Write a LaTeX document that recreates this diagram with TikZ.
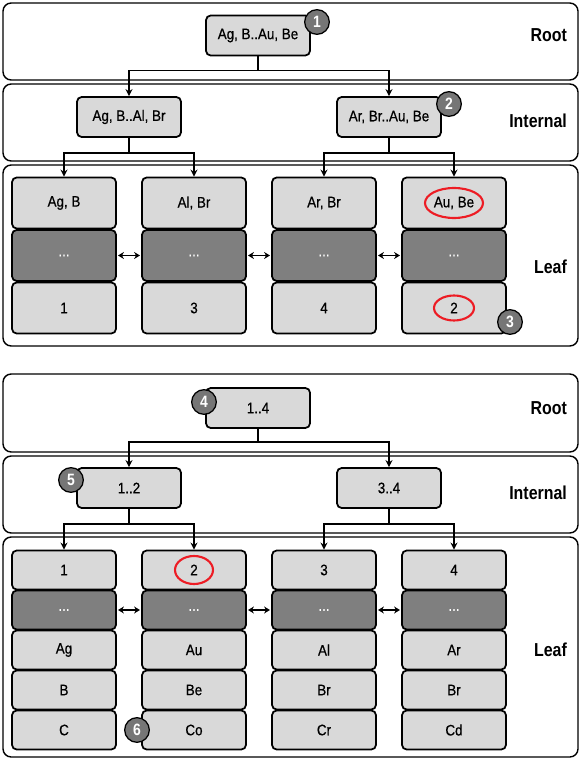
\documentclass[tikz,border=0pt]{standalone}
\usepackage{fontspec}
\setmainfont{Liberation Sans}[FakeStretch=0.88, FakeBold=0.6]
\newfontfamily\layerfont{Liberation Sans}[FakeStretch=0.85]
\usepackage{tikz}
\usetikzlibrary{arrows.meta,positioning,calc}

\definecolor{cellgray}{HTML}{D9D9D9}
\definecolor{celldark}{HTML}{7F7F7F}
\definecolor{badgegray}{HTML}{767676}
\definecolor{ringred}{HTML}{ED1C24}

\begin{document}
\begin{tikzpicture}[
    x=0.03cm, y=-0.03cm,
    font=\fontsize{13}{15}\selectfont,
    panel/.style={draw=black, line width=1.2pt, rounded corners=7pt, fill=white},
    treenode/.style={rectangle, rounded corners=4pt, draw=black, line width=1.5pt, fill=cellgray, text centered, minimum width=3.12cm, minimum height=1.2cm, inner sep=0pt},
    tallcell/.style={treenode, minimum height=1.53cm},
    flatcell/.style={treenode, minimum height=1.17cm},
    dots/.style={fill=celldark, text=white},
    badge/.style={circle, draw=black, line width=1.1pt, fill=badgegray, text=white, font=\layerfont\fontsize{14}{14}\selectfont\bfseries, minimum size=0.74cm, inner sep=0pt},
    layer/.style={anchor=east, font=\layerfont\fontsize{16}{18}\selectfont\bfseries},
    arrow/.style={-{Stealth[length=6pt,width=6pt]}, line width=1.3pt},
    link/.style={{Stealth[length=5pt,width=6pt]}-{Stealth[length=5pt,width=6pt]}, line width=1.4pt, shorten <=1pt, shorten >=1pt},
    ring/.style={draw=ringred, line width=1.8pt}
]
    \useasboundingbox (0,0) rectangle (581,760);

    % ---------- upper tree: keys ----------
    \draw[panel] (3,3) rectangle (578,80);
    \draw[panel] (3,84) rectangle (578,161);
    \draw[panel] (3,165) rectangle (578,346);

    \node[layer] (rootA) at (571,35) {Root};
    \node[layer] (internalA) at (571,121) {Internal};
    \node[layer] (leafA) at (571,267) {Leaf};

    \node[treenode] (r1) at (258,35.5) {Ag, B..Au, Be};
    \node[treenode] (i1) at (129,117) {Ag, B..Al, Br};
    \node[treenode] (i2) at (389,117) {Ar, Br..Au, Be};

    \foreach \k/\x/\key/\val in {1/64/{Ag, B}/1, 2/194/{Al, Br}/3, 3/324/{Ar, Br}/4, 4/454/{Au, Be}/2} {
        \node[tallcell] (ka\k) at (\x,203) {\key};
        \node[tallcell, dots] (kb\k) at (\x,255.5) {...};
        \node[tallcell] (kc\k) at (\x,308) {\val};
    }

    \draw[arrow] (r1.south) -- ++(0,14) -| (i1.north);
    \draw[arrow] (r1.south) -- ++(0,14) -| (i2.north);
    \draw[arrow] (i1.south) -- ++(0,15) -| (ka1.north);
    \draw[arrow] (i1.south) -- ++(0,15) -| (ka2.north);
    \draw[arrow] (i2.south) -- ++(0,15) -| (ka3.north);
    \draw[arrow] (i2.south) -- ++(0,15) -| (ka4.north);
    \foreach \a/\b in {1/2, 2/3, 3/4}
        \draw[link] (kb\a.east) -- (kb\b.west);

    \draw[ring] (ka4) ellipse [x radius=29, y radius=15];
    \draw[ring] (kc4) ellipse [x radius=20, y radius=12.5];

    \node[badge] (b1) at (317,22) {1};
    \node[badge] (b2) at (449,104) {2};
    \node[badge] (b3) at (510,322) {3};

    % ---------- lower tree: ids ----------
    \draw[panel] (3,374) rectangle (578,452);
    \draw[panel] (3,456) rectangle (578,533);
    \draw[panel] (3,537) rectangle (578,757);

    \node[layer] (rootB) at (571,408) {Root};
    \node[layer] (internalB) at (571,493) {Internal};
    \node[layer] (leafB) at (571,650) {Leaf};

    \node[treenode] (r2) at (258,408) {1..4};
    \node[treenode] (j1) at (129,488) {1..2};
    \node[treenode] (j2) at (389,488) {3..4};

    \foreach \k/\x/\id/\p/\q/\s in {1/64/1/Ag/B/C, 2/194/2/Au/Be/Co, 3/324/3/Al/Br/Cr, 4/454/4/Ar/Br/Cd} {
        \node[flatcell] (la\k) at (\x,570) {\id};
        \node[flatcell, dots] (lb\k) at (\x,610) {...};
        \node[flatcell] (lc\k) at (\x,650) {\p};
        \node[flatcell] (ld\k) at (\x,690) {\q};
        \node[flatcell] (le\k) at (\x,730) {\s};
    }

    \draw[arrow] (r2.south) -- ++(0,13) -| (j1.north);
    \draw[arrow] (r2.south) -- ++(0,13) -| (j2.north);
    \draw[arrow] (j1.south) -- ++(0,15) -| (la1.north);
    \draw[arrow] (j1.south) -- ++(0,15) -| (la2.north);
    \draw[arrow] (j2.south) -- ++(0,15) -| (la3.north);
    \draw[arrow] (j2.south) -- ++(0,15) -| (la4.north);
    \foreach \a/\b in {1/2, 2/3, 3/4}
        \draw[link] (lb\a.east) -- (lb\b.west);

    \draw[ring] (la2) ellipse [x radius=19, y radius=14];

    \node[badge] (b4) at (204,402) {4};
    \node[badge] (b5) at (71,480) {5};
    \node[badge] (b6) at (137,730) {6};
\end{tikzpicture}
\end{document}
